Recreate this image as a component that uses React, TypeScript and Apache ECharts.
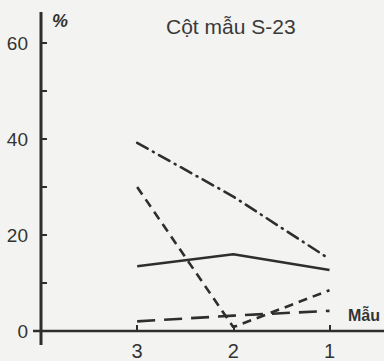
import React, { useEffect, useRef } from "react";
import * as echarts from "echarts";

const categories = ["3", "2", "1"];
const dashDotValues = [39.2, 28, 15];
const dashedValues = [30, 0.8, 8.5];
const solidValues = [13.5, 16, 12.7];
const longDashValues = [2, 3.2, 4.2];
const yTickLabels = [0, 20, 40, 60];

const INK = "#2e2e2e";
const FONT = "Liberation Sans, Arial, sans-serif";

export default function App() {
  const ref = useRef<HTMLDivElement>(null);
  useEffect(() => {
    if (!ref.current) return;
    const chart = echarts.init(ref.current, null, { renderer: "svg" });
    const xData = ["", ...categories];
    const mk = (vals: number[], dash: any, cap = "butt") => ({
      type: "line",
      data: [null, ...vals],
      symbol: "none",
      silent: true,
      lineStyle: { color: INK, width: 2.6, type: dash, cap },
    });
    chart.setOption({
      animation: false,
      backgroundColor: "#f3f3f1",
      title: {
        text: "Cột mẫu S-23",
        left: 161,
        top: 11,
        textStyle: { fontFamily: FONT, fontSize: 21, fontWeight: "normal", color: "#3a3a3a" },
      },
      grid: { left: 41, right: 54.5, top: 43, bottom: 30 },
      xAxis: {
        type: "category",
        data: xData,
        boundaryGap: false,
        axisLine: { show: false },
        axisTick: { show: true, inside: true, length: 6, lineStyle: { color: INK, width: 2 } },
        axisLabel: { margin: 10, fontSize: 20, color: "#333", fontFamily: FONT },
        splitLine: { show: false },
      },
      yAxis: {
        type: "value",
        min: 0,
        max: 60,
        interval: 10,
        axisLine: { show: false },
        axisTick: { show: true, inside: true, length: 6, lineStyle: { color: INK, width: 2 } },
        axisLabel: {
          margin: 13,
          fontSize: 19,
          color: "#333",
          fontFamily: FONT,
          formatter: (v: number) => (yTickLabels.includes(v) ? String(v) : ""),
        },
        splitLine: { show: false },
      },
      series: [
        mk(dashDotValues, [12, 6, 1, 6], "round"),
        mk(dashedValues, [9, 6]),
        mk(solidValues, "solid"),
        mk(longDashValues, [18, 9]),
      ],
    });
    const [x0, y0] = chart.convertToPixel({ gridIndex: 0 }, [0, 0]) as number[];
    const yTop = chart.convertToPixel({ gridIndex: 0 }, [0, 60])[1] as number;
    chart.setOption({
      graphic: [
        {
          type: "line",
          shape: { x1: x0, y1: yTop - 31, x2: x0, y2: y0 + 14 },
          style: { stroke: INK, lineWidth: 3 },
        },
        {
          type: "line",
          shape: { x1: x0 - 8, y1: y0, x2: 384, y2: y0 },
          style: { stroke: INK, lineWidth: 2.5 },
        },
        {
          type: "text",
          x: x0 + 11,
          y: yTop - 31,
          style: { text: "%", font: `italic bold 18px ${FONT}`, fill: "#333" },
        },
        {
          type: "text",
          x: 348,
          y: y0 - 24,
          style: { text: "Mẫu", font: `bold 16px ${FONT}`, fill: "#333" },
        },
      ],
    });
    return () => chart.dispose();
  }, []);
  return <div ref={ref} style={{ width: 384, height: 361, position: "fixed", left: 0, top: 0 }} />;
}
